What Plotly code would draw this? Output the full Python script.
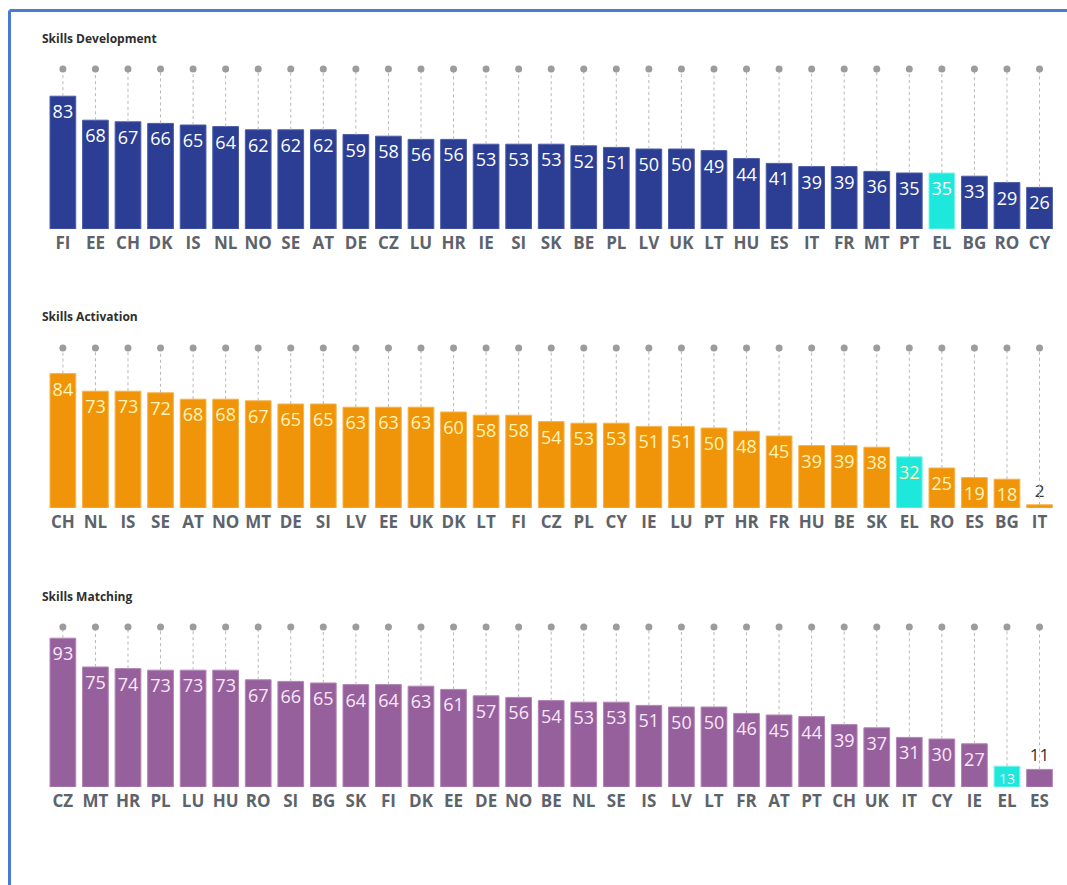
import plotly.graph_objects as go

# Skills index scores by country (0-100), sorted high to low within each pillar
dev_countries = ["FI", "EE", "CH", "DK", "IS", "NL", "NO", "SE", "AT", "DE", "CZ", "LU", "HR", "IE", "SI", "SK",
                 "BE", "PL", "LV", "UK", "LT", "HU", "ES", "IT", "FR", "MT", "PT", "EL", "BG", "RO", "CY"]
dev_values = [83, 68, 67, 66, 65, 64, 62, 62, 62, 59, 58, 56, 56, 53, 53, 53,
              52, 51, 50, 50, 49, 44, 41, 39, 39, 36, 35, 35, 33, 29, 26]

act_countries = ["CH", "NL", "IS", "SE", "AT", "NO", "MT", "DE", "SI", "LV", "EE", "UK", "DK", "LT", "FI", "CZ",
                 "PL", "CY", "IE", "LU", "PT", "HR", "FR", "HU", "BE", "SK", "EL", "RO", "ES", "BG", "IT"]
act_values = [84, 73, 73, 72, 68, 68, 67, 65, 65, 63, 63, 63, 60, 58, 58, 54,
              53, 53, 51, 51, 50, 48, 45, 39, 39, 38, 32, 25, 19, 18, 2]

match_countries = ["CZ", "MT", "HR", "PL", "LU", "HU", "RO", "SI", "BG", "SK", "FI", "DK", "EE", "DE", "NO", "BE",
                   "NL", "SE", "IS", "LV", "LT", "FR", "AT", "PT", "CH", "UK", "IT", "CY", "IE", "EL", "ES"]
match_values = [93, 75, 74, 73, 73, 73, 67, 66, 65, 64, 64, 63, 61, 57, 56, 54,
                53, 53, 51, 50, 50, 46, 45, 44, 39, 37, 31, 30, 27, 13, 11]

panel_titles = ["Skills Development", "Skills Activation", "Skills Matching"]

W, H = 1067, 885
HIGHLIGHT = "EL"
HIGHLIGHT_COLOR = "#1ee8dc"
MAX_SCORE = 100

panels = [
    dict(title=panel_titles[0], cats=dev_countries, vals=dev_values,
         color="#2b3e93", edge="#4b5ca8", label="#ffffff", base_px=229, top_px=69, title_px=38),
    dict(title=panel_titles[1], cats=act_countries, vals=act_values,
         color="#f0950a", edge="#f6b24a", label="#fff4b8", base_px=508, top_px=348, title_px=316),
    dict(title=panel_titles[2], cats=match_countries, vals=match_values,
         color="#96609c", edge="#b184b5", label="#fbe8fb", base_px=787, top_px=627, title_px=596),
]

x_left_px, x_right_px = 46.6, 1055.8

fig = go.Figure()
layout_axes = {}
annotations = []

for i, p in enumerate(panels, start=1):
    xa = "x" if i == 1 else f"x{i}"
    ya = "y" if i == 1 else f"y{i}"
    cats, vals = p["cats"], p["vals"]

    # dotted guide from each bar top up to the 100 mark
    gx, gy = [], []
    for c, v in zip(cats, vals):
        gx += [c, c, None]
        gy += [v, MAX_SCORE, None]
    fig.add_trace(go.Scatter(x=gx, y=gy, mode="lines", xaxis=xa, yaxis=ya,
                             line=dict(color="#b8b8b8", width=1, dash="dot"),
                             hoverinfo="skip", showlegend=False, cliponaxis=False))
    fig.add_trace(go.Scatter(x=cats, y=[MAX_SCORE] * len(cats), mode="markers", xaxis=xa, yaxis=ya,
                             marker=dict(color="#9c9c9c", size=7),
                             hoverinfo="skip", showlegend=False, cliponaxis=False))

    colors = [HIGHLIGHT_COLOR if c == HIGHLIGHT else p["color"] for c in cats]
    edges = ["#7ef3ec" if c == HIGHLIGHT else p["edge"] for c in cats]
    positions = ["outside" if v < 12 else "inside" for v in vals]
    inside_sizes = [18 if v >= 15 else 14 for v in vals]
    fig.add_trace(go.Bar(
        x=cats, y=vals, xaxis=xa, yaxis=ya,
        marker=dict(color=colors, line=dict(color=edges, width=1)),
        text=[str(v) for v in vals],
        textposition=positions,
        textangle=0,
        constraintext="none",
        insidetextanchor="end",
        insidetextfont=dict(family="Open Sans", size=inside_sizes, color=p["label"]),
        outsidetextfont=dict(family="Open Sans", size=17, color="#333333"),
        cliponaxis=False, showlegend=False,
    ))

    y0 = (H - p["base_px"]) / H
    y1 = (H - p["top_px"]) / H
    layout_axes[f"xaxis{'' if i == 1 else i}"] = dict(
        domain=[x_left_px / W, x_right_px / W], anchor=ya,
        range=[-0.5, len(cats) - 0.5], showgrid=False, zeroline=False, showline=False,
        ticks="", tickfont=dict(family="Open Sans", size=17, color="#5d636b", weight="bold"),
        ticklabelstandoff=2, fixedrange=True,
    )
    layout_axes[f"yaxis{'' if i == 1 else i}"] = dict(
        domain=[y0, y1], anchor=xa, range=[0, MAX_SCORE],
        showgrid=False, zeroline=False, showline=False, showticklabels=False, fixedrange=True,
    )
    annotations.append(dict(
        text=f"<b>{p['title']}</b>", xref="paper", yref="paper",
        x=40 / W, y=(H - p["title_px"]) / H, xanchor="left", yanchor="middle",
        showarrow=False, font=dict(family="Open Sans", size=12, color="#2e2e2e"),
    ))

# blue frame on the top and left edges
frame_color = "#4a7ad6"
shapes = [
    dict(type="line", xref="paper", yref="paper", x0=9.5 / W, x1=1, y0=1 - 10.5 / H, y1=1 - 10.5 / H,
         line=dict(color=frame_color, width=3)),
    dict(type="line", xref="paper", yref="paper", x0=9.5 / W, x1=9.5 / W, y0=0, y1=1 - 10.5 / H,
         line=dict(color=frame_color, width=3)),
]

fig.update_layout(
    width=W, height=H,
    margin=dict(l=0, r=0, t=0, b=0),
    paper_bgcolor="white", plot_bgcolor="white",
    bargap=0.21,
    annotations=annotations, shapes=shapes,
    uniformtext=dict(mode=False),
    **layout_axes,
)

fig.write_html("out.html")
